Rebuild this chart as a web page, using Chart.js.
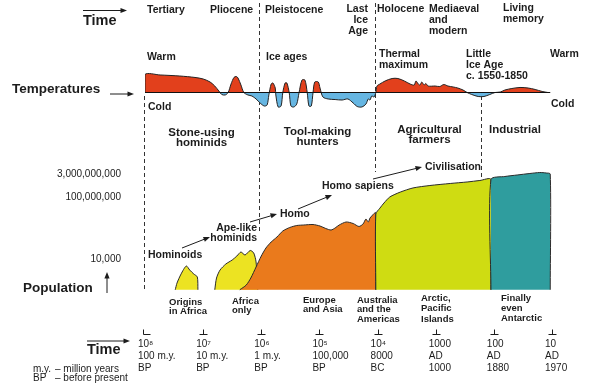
<!DOCTYPE html>
<html>
<head>
<meta charset="utf-8">
<script src="https://cdn.jsdelivr.net/npm/chart.js@4.4.1/dist/chart.umd.min.js"></script>
<style>
  body { margin: 0; background: #fff; }
  canvas { display: block; }
</style>
</head>
<body>
<canvas id="myChart" width="594" height="389"></canvas>
<script>
// time axis: decades back from 10^8 years BP (0) to 10 years BP (7)
const tickValues = [0, 1, 2, 3, 4, 5, 6, 7];
const tickLabels = [
  ['10⁸', '100 m.y.', 'BP'],
  ['10⁷', '10 m.y.', 'BP'],
  ['10⁶', '1 m.y.', 'BP'],
  ['10⁵', '100,000', 'BP'],
  ['10⁴', '8000', 'BC'],
  ['1000', 'AD', '1000'],
  ['100', 'AD', '1880'],
  ['10', 'AD', '1970']
];
const eraBounds = [0, 1.98, 3.97, 5.8];

// population axis ticks
const popTicks = [10000, 100000000, 3000000000];
const popBase = 100;

// temperature (relative, warm > 0 > cold)
const temperature = [
  [0, 0], [0, 2.25], [0.26, 2.19], [0.60, 2.06], [0.86, 1.88], [1.00, 1.69], [1.12, 1.31],
  [1.20, 0.81], [1.27, 0.19], [1.32, -0.25], [1.38, -0.31], [1.43, 0], [1.48, 1.06],
  [1.53, 1.88], [1.57, 2.0], [1.60, 1.81], [1.65, 0.94], [1.70, 0], [1.77, -0.31],
  [1.84, -0.44], [1.91, -0.81], [1.98, -1.31], [2.05, -1.69], [2.10, -1.56], [2.13, -0.31],
  [2.17, 1.06], [2.20, 1.19], [2.24, 0.56], [2.25, -0.31], [2.29, -1.81], [2.34, -1.69],
  [2.37, 0], [2.41, 1.19], [2.44, 1.19], [2.48, 0], [2.51, -1.69], [2.56, -1.81],
  [2.61, -1.44], [2.65, 0], [2.70, 1.56], [2.75, 1.56], [2.79, 0], [2.82, -1.69],
  [2.86, -1.69], [2.89, 0], [2.92, 1.31], [2.98, 1.31], [3.01, 0.56], [3.06, -0.56],
  [3.15, -0.81], [3.27, -0.88], [3.39, -0.94], [3.49, -0.81], [3.58, -1.31], [3.65, -1.75],
  [3.73, -1.81], [3.80, -1.44], [3.84, -0.81], [3.87, -0.94], [3.90, -0.44], [3.94, -0.56],
  [3.97, 0], [3.99, 0.81], [4.04, 1.06], [4.13, 1.44], [4.25, 1.75], [4.35, 1.75],
  [4.46, 1.44], [4.56, 1.06], [4.63, 0.94], [4.66, 1.44], [4.70, 1.06], [4.73, 0.94],
  [4.76, 1.31], [4.80, 0.94], [4.83, 1.13], [4.87, 0.81], [4.99, 0.81], [5.07, 0.75],
  [5.14, 1.0], [5.21, 0.81], [5.30, 0.69], [5.38, 0.56], [5.47, 0.31], [5.54, 0],
  [5.62, -0.25], [5.73, -0.5], [5.83, -0.5], [5.93, -0.25], [6.02, 0], [6.11, 0.06],
  [6.19, 0.31], [6.31, 0.5], [6.45, 0.63], [6.59, 0.56], [6.71, 0.38], [6.83, 0.13], [6.93, 0]
];

// population outlines (x, people)
const hominoids = [[0.52, 100], [0.55, 270], [0.62, 1050], [0.71, 3500], [0.77, 1900],
  [0.84, 1050], [0.90, 680], [0.91, 100]];
const apeLike = [[1.20, 100], [1.23, 580], [1.29, 1900], [1.39, 4700], [1.50, 8600],
  [1.58, 15600], [1.65, 28400], [1.72, 18100], [1.81, 35600], [1.87, 24400], [1.91, 6400], [1.94, 100]];
const hunters = [[1.63, 100], [1.74, 200], [1.82, 580], [1.91, 3000], [2.00, 15600],
  [2.08, 51600], [2.17, 127000], [2.27, 267000], [2.37, 656000], [2.49, 1.11e6],
  [2.61, 1.49e6], [2.73, 1.61e6], [2.89, 1.73e6], [3.01, 1.38e6], [3.11, 9.5e5],
  [3.20, 7.6e5], [3.27, 1.03e6], [3.34, 1.61e6], [3.46, 2.52e6], [3.58, 2.01e6],
  [3.68, 1.29e6], [3.75, 1.87e6], [3.80, 3.94e6], [3.84, 2.52e6], [3.87, 4.58e6],
  [3.90, 6.18e6], [3.94, 8.98e6], [3.97, 1.04e7], [3.97, 100]];
const farmers = [[3.97, 100], [3.97, 8.3e6], [4.04, 2.0e7], [4.11, 4.3e7], [4.21, 1.06e8],
  [4.39, 2.2e8], [4.61, 4.1e8], [4.90, 5.9e8], [5.25, 8.0e8], [5.54, 1.0e9],
  [5.76, 1.25e9], [5.95, 1.45e9], [5.95, 100]];
const industrial = [[5.95, 100], [5.95, 1.45e9], [6.19, 2.27e9], [6.40, 2.84e9],
  [6.62, 3.56e9], [6.79, 4.12e9], [6.90, 3.83e9], [6.97, 3.3e9], [6.97, 100]];

const FONT = '"Liberation Sans", Arial, sans-serif';
const INK = '#1c1c1c';

// layout of the drawing (pixels)
const AREA = { left: 145, right: 552, top: 0, bottom: 334 };
const tempZeroY = 92.5, tempPx = 8;            // px per temperature unit
const popFit = { y0: 210.33, l0: 7.159, k: 15.4 }; // y = y0 - k*(log10(p) - l0)
const eraSpans = [[96, 290], [3, 232], [3, 172], [96, 179]];

function pts(arr) { return arr.map(p => ({ x: p[0], y: p[1] })); }

function shape(data, color) {
  return {
    data: pts(data), yAxisID: 'yP', borderColor: '#2a2a2a', borderWidth: 1,
    backgroundColor: color, fill: { value: popBase }, pointRadius: 0, tension: 0.25
  };
}

function arrow(ctx, x1, y1, x2, y2) {
  const a = Math.atan2(y2 - y1, x2 - x1);
  ctx.beginPath();
  ctx.moveTo(x1, y1);
  ctx.lineTo(x2 - 4 * Math.cos(a), y2 - 4 * Math.sin(a));
  ctx.stroke();
  ctx.beginPath();
  ctx.moveTo(x2, y2);
  ctx.lineTo(x2 - 6.5 * Math.cos(a) + 2.6 * Math.sin(a), y2 - 6.5 * Math.sin(a) - 2.6 * Math.cos(a));
  ctx.lineTo(x2 - 6.5 * Math.cos(a) - 2.6 * Math.sin(a), y2 - 6.5 * Math.sin(a) + 2.6 * Math.cos(a));
  ctx.closePath();
  ctx.fill();
}

// text: [lines, x, y, size, bold, align, lineHeight]
const texts = [
  ['Tertiary', 147, 10, 10.5, true, 'left'],
  ['Pliocene', 210, 10, 10.5, true, 'left'],
  ['Pleistocene', 265, 10, 10.5, true, 'left'],
  [['Last', 'Ice', 'Age'], 368, 9, 10.5, true, 'right', 11],
  ['Holocene', 377, 9, 10.5, true, 'left'],
  [['Mediaeval', 'and', 'modern'], 429, 9, 10.5, true, 'left', 11],
  [['Living', 'memory'], 503, 8, 10.5, true, 'left', 11],
  ['Warm', 147, 57, 10.5, true, 'left'],
  ['Ice ages', 266, 57, 10.5, true, 'left'],
  [['Thermal', 'maximum'], 379, 54, 10.5, true, 'left', 11],
  [['Little', 'Ice Age', 'c. 1550-1850'], 466, 54, 10.5, true, 'left', 11],
  ['Warm', 550, 54, 10.5, true, 'left'],
  ['Cold', 551, 104, 10.5, true, 'left'],
  ['Cold', 148, 107, 10.5, true, 'left'],
  ['Time', 83, 21, 14.5, true, 'left'],
  ['Temperatures', 12, 89, 13.5, true, 'left'],
  ['Population', 23, 288, 13.5, true, 'left'],
  ['Time', 87, 350, 14.5, true, 'left'],
  [['Stone-using', 'hominids'], 201.5, 133, 11.5, true, 'center', 9.5],
  [['Tool-making', 'hunters'], 317.5, 132, 11.5, true, 'center', 9.5],
  [['Agricultural', 'farmers'], 429.5, 130, 11.5, true, 'center', 10],
  ['Industrial', 515, 130, 11.5, true, 'center'],
  ['Hominoids', 148, 255, 10.5, true, 'left'],
  [['Ape-like', 'hominids'], 257, 228, 10.5, true, 'right', 10],
  ['Homo', 280, 214, 10.5, true, 'left'],
  ['Homo sapiens', 322, 186, 10.5, true, 'left'],
  ['Civilisation', 425, 167, 10.5, true, 'left'],
  [['Origins', 'in Africa'], 169, 302, 9.5, true, 'left', 9.7],
  [['Africa', 'only'], 232, 301, 9.5, true, 'left', 9.7],
  [['Europe', 'and Asia'], 303, 300, 9.5, true, 'left', 9.7],
  [['Australia', 'and the', 'Americas'], 357, 300, 9.5, true, 'left', 9.7],
  [['Arctic,', 'Pacific', 'Islands'], 421, 298.5, 9.5, true, 'left', 10.3],
  [['Finally', 'even', 'Antarctic'], 501, 298.5, 9.5, true, 'left', 10],
  ['m.y.', 33, 369, 10, false, 'left'],
  ['– million years', 55, 369, 10, false, 'left'],
  ['BP', 33, 378, 10, false, 'left'],
  ['– before present', 55, 378, 10, false, 'left']
];

const arrows = [
  [83, 10.5, 127, 10.5], [110, 94, 134, 94], [107, 293, 107, 272],
  [182, 248, 210, 237], [250, 222, 277, 214], [298, 209, 332, 195],
  [373, 179, 422, 167], [87, 341, 130, 341]
];

const annotate = {
  id: 'annotate',
  beforeDatasetsDraw(chart) {
    const ctx = chart.ctx, x = chart.scales.x;
    ctx.save();
    ctx.strokeStyle = '#333';
    ctx.lineWidth = 1;
    ctx.setLineDash([4, 3]);
    eraBounds.forEach((v, i) => {
      const px = Math.round(x.getPixelForValue(v)) - 0.5;
      ctx.beginPath();
      ctx.moveTo(px, eraSpans[i][0]);
      ctx.lineTo(px, eraSpans[i][1]);
      ctx.stroke();
    });
    ctx.restore();
  },
  afterDraw(chart) {
    const ctx = chart.ctx, x = chart.scales.x;
    ctx.save();
    ctx.fillStyle = INK;
    ctx.strokeStyle = INK;
    ctx.textBaseline = 'middle';
    texts.forEach(t => {
      const lines = Array.isArray(t[0]) ? t[0] : [t[0]];
      ctx.font = (t[4] ? 'bold ' : '') + t[3] + 'px ' + FONT;
      ctx.textAlign = t[5];
      lines.forEach((s, i) => ctx.fillText(s, t[1], t[2] + i * (t[6] || 11)));
    });
    ctx.lineWidth = 1;
    arrows.forEach(a => arrow(ctx, a[0], a[1], a[2], a[3]));
    // tick marks of the time axis
    const yb = AREA.bottom + 0.5;
    x.ticks.forEach((tk, i) => {
      const px = Math.round(x.getPixelForValue(tk.value)) + 0.5;
      ctx.beginPath();
      if (i === 0) {
        ctx.moveTo(px - 2, yb - 5); ctx.lineTo(px - 2, yb); ctx.lineTo(px + 5, yb);
      } else {
        ctx.moveTo(px, yb - 5); ctx.lineTo(px, yb);
        ctx.moveTo(px - 4, yb); ctx.lineTo(px + 4, yb);
      }
      ctx.stroke();
    });
    ctx.restore();
  }
};

const H = AREA.bottom - AREA.top;
const popLog = y => popFit.l0 + (popFit.y0 - y) / popFit.k;

var ctx = document.getElementById('myChart');
var chartTime = new Chart(ctx, {
  type: 'line',
  data: {
    datasets: [
      {
        data: [{ x: -0.03, y: 0 }, { x: 6.97, y: 0 }], yAxisID: 'yT',
        borderColor: '#111', borderWidth: 1.2, pointRadius: 0, fill: false
      },
      {
        data: pts(temperature), yAxisID: 'yT', borderColor: '#222', borderWidth: 1,
        pointRadius: 0, tension: 0.3,
        fill: { target: { value: 0 }, above: '#e2401c', below: '#66b6e2' }
      },
      shape(industrial, '#2f9d9e'),
      shape(farmers, '#cfdc12'),
      shape(hunters, '#ea7a1c'),
      shape(apeLike, '#ece322'),
      shape(hominoids, '#ece322')
    ]
  },
  options: {
    responsive: false,
    animation: false,
    devicePixelRatio: 1,
    layout: { padding: { left: 0, top: AREA.top, right: 594 - AREA.right, bottom: 0 } },
    plugins: { legend: { display: false }, tooltip: { enabled: false } },
    scales: {
      x: {
        type: 'linear', min: 0, max: 7,
        grid: { display: false, drawTicks: false }, border: { display: false },
        afterBuildTicks: s => { s.ticks = tickValues.map(v => ({ value: v })); },
        afterFit: s => { s.height = 389 - AREA.bottom; s.paddingLeft = 0; s.paddingRight = 0; },
        ticks: {
          align: 'start', labelOffset: -7, padding: 4, maxRotation: 0, autoSkip: false,
          color: INK, font: { family: FONT, size: 10, lineHeight: 1.2 },
          callback: (v, i) => tickLabels[i]
        }
      },
      yP: {
        type: 'logarithmic', position: 'left',
        min: Math.pow(10, popLog(AREA.bottom)), max: Math.pow(10, popLog(AREA.top)),
        grid: { display: false, drawTicks: false }, border: { display: false },
        afterBuildTicks: s => { s.ticks = popTicks.map(v => ({ value: v })); },
        afterFit: s => { s.width = AREA.left; s.paddingTop = 0; s.paddingBottom = 0; },
        ticks: {
          padding: 24, color: INK, font: { family: FONT, size: 10 },
          callback: v => v.toLocaleString('en-US')
        }
      },
      yT: {
        type: 'linear', display: false,
        min: -(AREA.bottom - tempZeroY) / tempPx, max: (tempZeroY - AREA.top) / tempPx
      }
    }
  },
  plugins: [annotate]
});
</script>
</body>
</html>
